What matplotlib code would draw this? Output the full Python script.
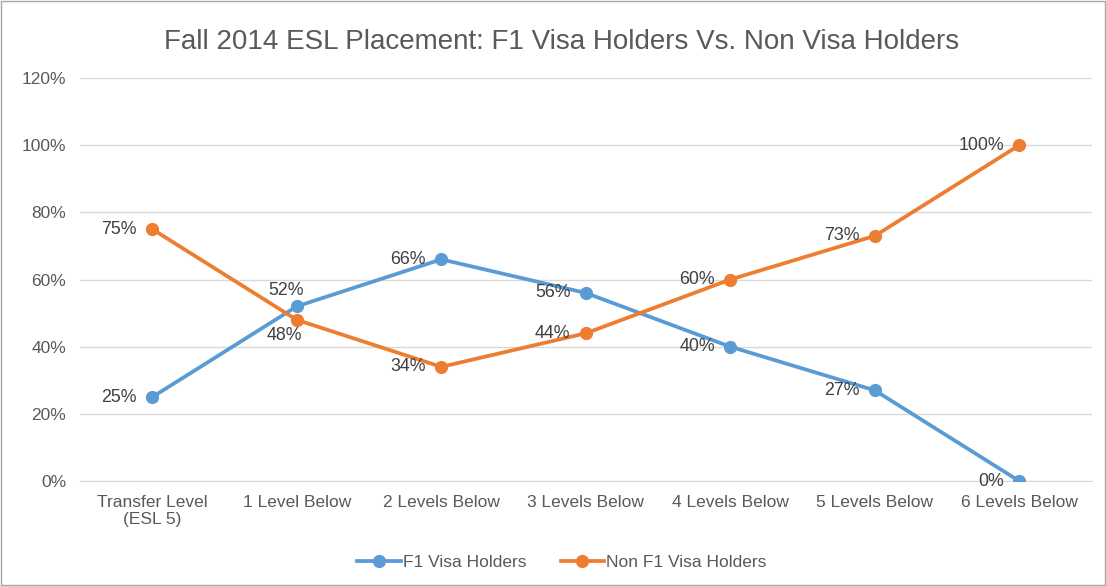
import matplotlib.pyplot as plt
from matplotlib.patches import Rectangle

plt.rcParams['font.family'] = ['Liberation Sans', 'DejaVu Sans']

categories = ['Transfer Level\n(ESL 5)', '1 Level Below', '2 Levels Below', '3 Levels Below',
              '4 Levels Below', '5 Levels Below', '6 Levels Below']
f1_visa = [25, 52, 66, 56, 40, 27, 0]
non_f1_visa = [75, 48, 34, 44, 60, 73, 100]

# label placement per point ('left', 'above', 'below')
f1_pos = ['left', 'above', 'left', 'left', 'left', 'left', 'left']
non_pos = ['left', 'below', 'left', 'left', 'left', 'left', 'left']

blue = '#5b9bd5'
orange = '#ed7d31'
txt = '#595959'
lbl = '#404040'

fig = plt.figure(figsize=(11.06, 5.86), dpi=100)
ax = fig.add_axes([0.0723, 0.179, 0.9147, 0.688])

x = list(range(len(categories)))
ax.plot(x, f1_visa, color=blue, lw=2.7, marker='o', ms=8.5, label='F1 Visa Holders', zorder=3)
ax.plot(x, non_f1_visa, color=orange, lw=2.7, marker='o', ms=8.5, label='Non F1 Visa Holders', zorder=3)


def put_labels(vals, pos):
    for i, (v, p) in enumerate(zip(vals, pos)):
        s = f'{v}%'
        if p == 'left':
            ax.annotate(s, (i, v), xytext=(-11, 0), textcoords='offset points',
                        ha='right', va='center', fontsize=12.8, color=lbl)
        elif p == 'above':
            ax.annotate(s, (i, v), xytext=(-8, 5), textcoords='offset points',
                        ha='center', va='bottom', fontsize=12.8, color=lbl)
        else:
            ax.annotate(s, (i, v), xytext=(-9, -5), textcoords='offset points',
                        ha='center', va='top', fontsize=12.8, color=lbl)


put_labels(f1_visa, f1_pos)
put_labels(non_f1_visa, non_pos)

ax.set_xlim(-0.5, len(categories) - 0.5)
ax.set_ylim(0, 120)
ax.set_yticks(range(0, 121, 20))
ax.set_yticklabels([f'{t}%' for t in range(0, 121, 20)])
ax.set_xticks(x)
ax.set_xticklabels(categories)
ax.tick_params(axis='both', length=0, labelsize=12.5, labelcolor=txt)
ax.tick_params(axis='x', pad=10)
ax.tick_params(axis='y', pad=10)
ax.grid(axis='y', color='#d9d9d9', lw=1)
ax.set_axisbelow(True)
for s in ['top', 'right', 'left']:
    ax.spines[s].set_visible(False)
ax.spines['bottom'].set_color('#d9d9d9')

fig.suptitle('Fall 2014 ESL Placement: F1 Visa Holders Vs. Non Visa Holders',
             x=0.508, y=0.95, fontsize=20, color=txt)

fig.legend(loc='center', bbox_to_anchor=(0.508, 0.04), ncol=2, frameon=False,
           fontsize=12.5, labelcolor=txt, handlelength=2.5, handletextpad=0.1, columnspacing=2.0)

fig.patches.append(Rectangle((0.001, 0.001), 0.998, 0.997, transform=fig.transFigure,
                             fill=False, edgecolor='#a6a6a6', lw=1))

fig.savefig('out.png', dpi=100)
